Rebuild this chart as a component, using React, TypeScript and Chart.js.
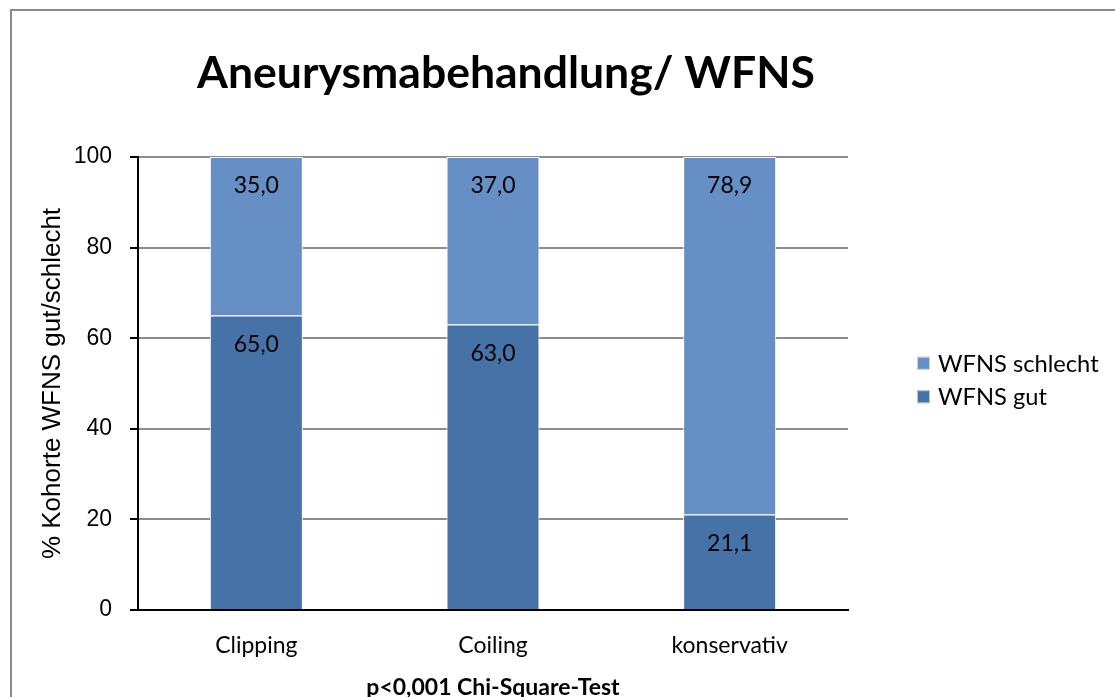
import React, { useEffect, useRef } from 'react';
import { Chart, registerables } from 'chart.js';

Chart.register(...registerables);

const categories = ['Clipping', 'Coiling', 'konservativ'];
const gutValues = [65.0, 63.0, 21.1];
const schlechtValues = [35.0, 37.0, 78.9];
const yTicks = [0, 20, 40, 60, 80, 100];
const seriesGut = 'WFNS gut';
const seriesSchlecht = 'WFNS schlecht';
const titleText = 'Aneurysmabehandlung/ WFNS';
const xTitleText = 'p<0,001 Chi-Square-Test';
const yTitleText = '% Kohorte WFNS gut/schlecht';

const DARK = '#4672a8';
const LIGHT = '#6690c5';

const customPlugin = {
  id: 'customDecor',
  afterDatasetsDraw(chart: any) {
    const ctx = chart.ctx;
    ctx.save();
    ctx.font = '23px Lato';
    ctx.fillStyle = '#000';
    ctx.textAlign = 'center';
    ctx.textBaseline = 'middle';
    chart.data.datasets.forEach((ds: any, di: number) => {
      const meta = chart.getDatasetMeta(di);
      meta.data.forEach((bar: any, i: number) => {
        const v = ds.data[i] as number;
        ctx.fillText(v.toFixed(1).replace('.', ','), bar.x, bar.y + 29);
      });
    });
    ctx.restore();
  },
  afterDraw(chart: any) {
    const { ctx, chartArea } = chart;
    ctx.save();
    // Title
    ctx.font = 'bold 44.5px Lato';
    ctx.fillStyle = '#000';
    ctx.textAlign = 'center';
    ctx.textBaseline = 'alphabetic';
    ctx.fillText(titleText, (chartArea.left + chartArea.right) / 2 + 13, 77);
    // Legend (reverse order like Excel stacked)
    const items = chart.data.datasets.map((d: any) => d).reverse();
    const lx = chartArea.right + 69;
    const mid = (chartArea.top + chartArea.bottom) / 2 - 3.5;
    const gap = 33.5;
    items.forEach((ds: any, k: number) => {
      const cy = mid + (k - (items.length - 1) / 2) * gap;
      ctx.fillStyle = ds.backgroundColor;
      ctx.fillRect(lx, cy - 6.5, 13, 13);
      ctx.strokeStyle = 'rgba(255,255,255,0.6)';
      ctx.lineWidth = 1;
      ctx.strokeRect(lx + 0.5, cy - 6, 12, 12);
      ctx.fillStyle = '#000';
      ctx.font = '23.7px Lato';
      ctx.textAlign = 'left';
      ctx.textBaseline = 'middle';
      ctx.fillText(ds.label, lx + 21, cy + 1);
    });
    ctx.restore();
  },
};

export default function App() {
  const canvasRef = useRef<HTMLCanvasElement | null>(null);

  useEffect(() => {
    document.body.style.overflow = 'hidden';
    const canvas = canvasRef.current;
    if (!canvas) return;
    const chart = new Chart(canvas, {
      type: 'bar',
      data: {
        labels: categories,
        datasets: [
          {
            label: seriesGut,
            data: gutValues,
            backgroundColor: DARK,
            borderColor: '#ffffff',
            borderWidth: 1,
            barPercentage: 0.393,
            categoryPercentage: 1,
          },
          {
            label: seriesSchlecht,
            data: schlechtValues,
            backgroundColor: LIGHT,
            borderColor: '#ffffff',
            borderWidth: 1,
            barPercentage: 0.393,
            categoryPercentage: 1,
          },
        ],
      },
      options: {
        responsive: false,
        animation: false,
        devicePixelRatio: 1,
        layout: { padding: { left: 0, right: 266, top: 146, bottom: 0 } },
        plugins: {
          legend: { display: false },
          title: { display: false },
          tooltip: { enabled: false },
        },
        scales: {
          x: {
            stacked: true,
            grid: { display: false, drawTicks: false },
            border: { display: true, color: '#000', width: 2 },
            ticks: {
              font: { family: 'Lato', size: 23 },
              color: '#000',
              padding: 22,
            },
            title: {
              display: true,
              text: xTitleText,
              font: { family: 'Lato', size: 23, weight: 'bold' },
              color: '#000',
              padding: { top: 0, bottom: 50 },
            },
            afterFit: (s: any) => {
              s.height = 141;
            },
          },
          y: {
            stacked: true,
            min: 0,
            max: 100,
            afterBuildTicks: (s: any) => {
              s.ticks = yTicks.map((v) => ({ value: v }));
            },
            ticks: {
              font: { family: 'Liberation Sans', size: 23 },
              color: '#000',
              padding: 18,
            },
            grid: {
              color: (c: any) => (c.tick && c.tick.value === 0 ? 'rgba(0,0,0,0)' : '#8c8c8c'),
              lineWidth: 2,
              drawTicks: true,
              tickLength: 8,
              tickColor: '#000',
              tickWidth: 2,
            },
            border: { display: true, color: '#000', width: 2 },
            title: {
              display: true,
              text: yTitleText,
              font: { family: 'Liberation Sans', size: 26 },
              color: '#000',
              padding: { top: 25, bottom: 0 },
            },
            afterFit: (s: any) => {
              s.width = 126;
            },
          },
        },
      },
      plugins: [customPlugin],
    } as any);
    return () => {
      chart.destroy();
    };
  }, []);

  return (
    <div
      style={{
        position: 'fixed',
        left: 10,
        top: 9,
        width: 1120,
        height: 760,
        border: '2px solid #8a8a8a',
        background: '#fff',
        boxSizing: 'border-box',
      }}
    >
      <canvas ref={canvasRef} width={1102} height={740} style={{ display: 'block' }} />
    </div>
  );
}
